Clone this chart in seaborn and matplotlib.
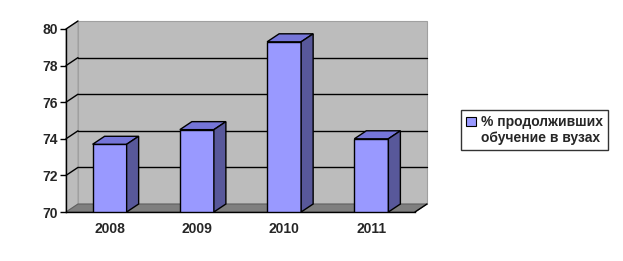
import matplotlib
matplotlib.use("Agg")
import matplotlib.pyplot as plt
import seaborn as sns
import pandas as pd
from matplotlib.patches import Polygon, Patch, Rectangle

years = ["2008", "2009", "2010", "2011"]
values = [73.7, 74.5, 79.3, 74.0]
yticks = [70, 72, 74, 76, 78, 80]
series_label = "% продолживших\nобучение в вузах"

sns.set_style("white")
plt.rcParams['font.family'] = ['Liberation Sans', 'DejaVu Sans']

W, H = 623, 261
fig = plt.figure(figsize=(W / 100, H / 100), dpi=100)
L, R, B, T = 66, 415, 212, 29
ax = fig.add_axes([L / W, 1 - B / H, (R - L) / W, (B - T) / H])

df = pd.DataFrame({"year": years, "value": values})
BW = 0.39
sns.barplot(data=df, x="year", y="value", ax=ax, color="#9999ff", width=BW,
            edgecolor="black", linewidth=1.0, saturation=1, zorder=5)
bars = [p for p in ax.patches if isinstance(p, Rectangle)]

x0, x1 = -0.5, len(years) - 0.5
ax.set_xlim(x0, x1)
ax.set_ylim(yticks[0], yticks[-1])

# depth offset in data units (12 px right, 8 px up)
px_x = (R - L) / (x1 - x0)
px_y = (B - T) / (yticks[-1] - yticks[0])
dx = 12 / px_x
dy = 8 / px_y
y0, ytop = yticks[0], yticks[-1]

wall_c = "#bcbcbc"
# back wall
ax.add_patch(Polygon([(x0 + dx, y0 + dy), (x1 + dx, y0 + dy), (x1 + dx, ytop + dy), (x0 + dx, ytop + dy)],
                     closed=True, facecolor=wall_c, edgecolor="#a0a0a0", lw=0.8, clip_on=False, zorder=0))
# left wall
ax.add_patch(Polygon([(x0, y0), (x0 + dx, y0 + dy), (x0 + dx, ytop + dy), (x0, ytop)],
                     closed=True, facecolor=wall_c, edgecolor="#a0a0a0", lw=0.8, clip_on=False, zorder=0))
# floor
ax.add_patch(Polygon([(x0, y0), (x1, y0), (x1 + dx, y0 + dy), (x0 + dx, y0 + dy)],
                     closed=True, facecolor="#7f7f7f", edgecolor="#606060", lw=0.8, clip_on=False, zorder=1))

# gridlines
for v in yticks[1:-1]:
    ax.plot([x0 + dx, x1 + dx], [v + dy, v + dy], color="black", lw=1.0, clip_on=False, zorder=2)
for v in yticks[1:]:
    ax.plot([x0, x0 + dx], [v, v + dy], color="black", lw=1.0, clip_on=False, zorder=2)
# right floor diagonal
ax.plot([x1, x1 + dx], [y0, y0 + dy], color="black", lw=1.0, clip_on=False, zorder=3)

# 3D faces of bars
for p in bars:
    xa = p.get_x()
    xb = xa + p.get_width()
    v = p.get_y() + p.get_height()
    top = Polygon([(xa, v), (xb, v), (xb + dx, v + dy), (xa + dx, v + dy)], closed=True,
                  facecolor="#7575d8", edgecolor="black", lw=1.0, zorder=6, clip_on=False)
    side = Polygon([(xb, y0), (xb + dx, y0 + dy), (xb + dx, v + dy), (xb, v)], closed=True,
                   facecolor="#58589a", edgecolor="black", lw=1.0, zorder=6, clip_on=False)
    ax.add_patch(top)
    ax.add_patch(side)

# spines
for s in ["top", "right"]:
    ax.spines[s].set_visible(False)
for s in ["left", "bottom"]:
    ax.spines[s].set_color("black")
    ax.spines[s].set_linewidth(1.0)
    ax.spines[s].set_zorder(7)

ax.set_yticks(yticks)
ax.set_yticklabels([str(v) for v in yticks], fontsize=10, fontweight="bold")
ax.set_xticks(range(len(years)))
ax.set_xticklabels(years, fontsize=10, fontweight="bold")
ax.tick_params(axis="x", which="major", length=0, pad=7)
ax.set_xticks([x0 + i for i in range(len(years) + 1)], minor=True)
ax.tick_params(axis="x", which="minor", length=4, width=1, color="black", direction="out")
ax.tick_params(axis="y", length=4, width=1, color="black", direction="out", pad=2, left=True)
ax.set_xlabel("")
ax.set_ylabel("")
ax.grid(False)

handle = Patch(facecolor="#9999ff", edgecolor="black", lw=0.8)
leg = fig.legend([handle], [series_label], loc="upper left",
                 bbox_to_anchor=(461 / W, 1 - 110 / H), frameon=True, fancybox=False,
                 prop={"size": 10, "weight": "bold"}, handlelength=0.7, handleheight=0.7,
                 handletextpad=0.4, borderpad=0.35, borderaxespad=0)
leg.get_frame().set_edgecolor("black")
leg.get_frame().set_linewidth(1.0)
hp = leg.get_patches()[0]
hp.set_y(hp.get_y() + 6.5)

fig.savefig("out.png", dpi=100)
